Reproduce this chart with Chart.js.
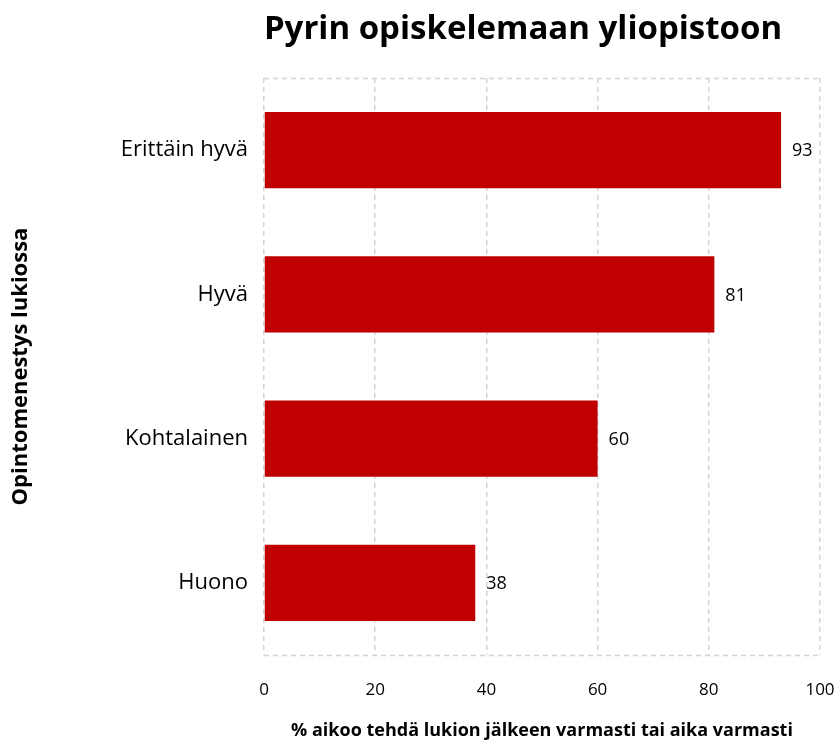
<!DOCTYPE html>
<html>
<head>
<meta charset="utf-8">
<script src="https://cdn.jsdelivr.net/npm/chart.js@4"></script>
<style>
  html, body { margin: 0; padding: 0; background: #fff; }
  #wrap { width: 840px; height: 746px; }
</style>
</head>
<body>
<div id="wrap"><canvas id="chart" width="840" height="746"></canvas></div>
<script>
const categories = ['Erittäin hyvä', 'Hyvä', 'Kohtalainen', 'Huono'];
const values = [93, 81, 60, 38];
const xTicks = [0, 20, 40, 60, 80, 100];

const FONT = '"Open Sans", Lato, sans-serif';
const gridColor = '#d4d4d4';

// title centred over the plot, drawn by hand
const titlePlugin = {
    id: 'titlePlugin',
    afterDraw(chart) {
        const c = chart.ctx;
        const a = chart.chartArea;
        c.save();
        c.font = 'bold 33px ' + FONT;
        c.fillStyle = '#000';
        c.textAlign = 'center';
        c.textBaseline = 'middle';
        c.fillText('Pyrin opiskelemaan yliopistoon', (a.left + a.right) / 2 - 19, 30);
        c.restore();
    }
};

// dashed top and bottom edges of the plot
const framePlugin = {
    id: 'framePlugin',
    beforeDatasetsDraw(chart) {
        const c = chart.ctx;
        const a = chart.chartArea;
        c.save();
        c.strokeStyle = gridColor;
        c.lineWidth = 1.5;
        c.setLineDash([5, 4]);
        [a.top, a.bottom].forEach(function(y) {
            c.beginPath();
            c.moveTo(a.left, y + 0.5);
            c.lineTo(a.right, y + 0.5);
            c.stroke();
        });
        c.restore();
    }
};

// value next to every bar
const labelPlugin = {
    id: 'labelPlugin',
    afterDatasetsDraw(chart) {
        const c = chart.ctx;
        const meta = chart.getDatasetMeta(0);
        c.save();
        c.font = '18px ' + FONT;
        c.fillStyle = '#000';
        c.textAlign = 'left';
        c.textBaseline = 'middle';
        meta.data.forEach(function(bar, i) {
            c.fillText(values[i], bar.x + 11, bar.y + 1);
        });
        c.restore();
    }
};

const ctx = document.getElementById('chart').getContext('2d');
new Chart(ctx, {
    type: 'bar',
    data: {
        labels: categories,
        datasets: [{
            data: values,
            backgroundColor: '#c00000',
            categoryPercentage: 1,
            barPercentage: 0.53
        }]
    },
    options: {
        indexAxis: 'y',
        responsive: false,
        animation: false,
        layout: { padding: { top: 78, right: 20, left: 0, bottom: 0 } },
        plugins: {
            legend: { display: false },
            tooltip: { enabled: false }
        },
        scales: {
            x: {
                min: 0,
                max: 100,
                afterBuildTicks(scale) {
                    scale.ticks = xTicks.map(v => ({ value: v }));
                },
                afterFit(scale) {
                    scale.height = 91;
                    scale.paddingRight = 0;
                    scale.paddingLeft = 0;
                },
                grid: {
                    color: gridColor,
                    lineWidth: 1.5,
                    drawTicks: false
                },
                border: { display: false, dash: [5, 4] },
                ticks: {
                    padding: 25,
                    color: '#000',
                    font: { family: FONT, size: 17 }
                },
                title: {
                    display: true,
                    text: '% aikoo tehdä lukion jälkeen varmasti tai aika varmasti',
                    color: '#000',
                    font: { family: FONT, size: 18, weight: 'bold' },
                    padding: { top: 9 }
                }
            },
            y: {
                afterFit(scale) {
                    scale.width = 264;
                    scale.paddingTop = 0;
                    scale.paddingBottom = 0;
                },
                grid: { display: false },
                border: { display: false },
                ticks: {
                    padding: 8,
                    color: '#000',
                    font: { family: FONT, size: 22 }
                },
                title: {
                    display: true,
                    text: 'Opintomenestys lukiossa',
                    color: '#000',
                    font: { family: FONT, size: 22, weight: 'bold' },
                    padding: { top: 8, bottom: 0 }
                }
            }
        }
    },
    plugins: [titlePlugin, framePlugin, labelPlugin]
});
</script>
</body>
</html>
